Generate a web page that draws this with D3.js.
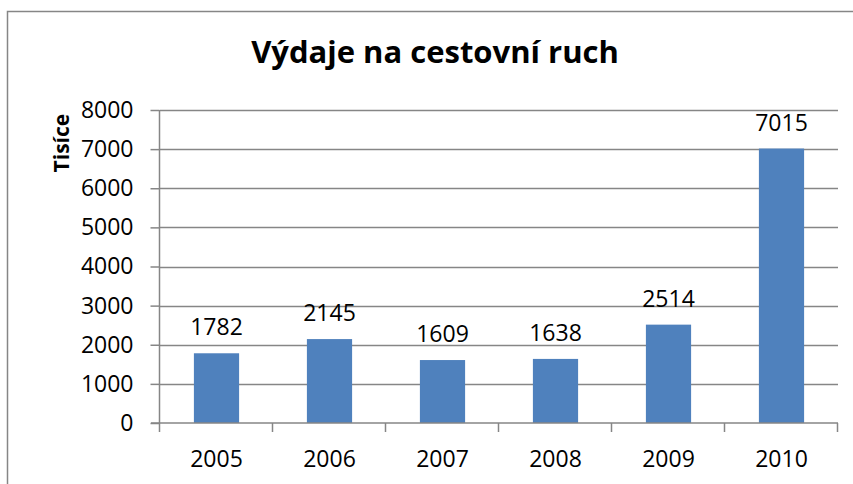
<!DOCTYPE html>
<html>
<head>
<meta charset="utf-8">
<script src="https://cdn.jsdelivr.net/npm/d3@7"></script>
<style>
  body { margin: 0; background: #fff; }
  svg text { font-family: "Open Sans", sans-serif; fill: #000; }
</style>
</head>
<body>
<div id="chart"></div>
<script>
// data
let years = ["2005", "2006", "2007", "2008", "2009", "2010"];
let values = [1782, 2145, 1609, 1638, 2514, 7015];
let yTicks = [0, 1000, 2000, 3000, 4000, 5000, 6000, 7000, 8000];
let title = "Výdaje na cestovní ruch";
let yTitle = "Tisíce";

(function(){

  let width = 853;
  let height = 484;
  let margin = { top: 110, right: 15, bottom: 61, left: 160 };
  let grey = "#868686";

  let svg = d3.select('#chart')
            .append("svg")
            .attr("width", width)
            .attr("height", height);

  // chart frame, runs off the right and bottom edge like in the screenshot
  svg.append("rect")
     .attr("x", 7.5).attr("y", 11.5)
     .attr("width", width + 20).attr("height", height + 20)
     .attr("fill", "none")
     .attr("stroke", grey)
     .attr("stroke-width", 1.5);

  let x = d3.scaleBand()
            .domain(years)
            .range([margin.left, width - margin.right])
            .paddingInner(0.6)
            .paddingOuter(0.3);

  let y = d3.scaleLinear()
            .domain([0, d3.max(yTicks)])
            .range([height - margin.bottom, margin.top]);

  // gridlines
  svg.append("g")
     .selectAll("line")
     .data(yTicks.filter(d => d > 0))
     .enter()
     .append("line")
       .attr("x1", margin.left)
       .attr("x2", width - margin.right)
       .attr("y1", d => Math.round(y(d)) + 0.5)
       .attr("y2", d => Math.round(y(d)) + 0.5)
       .attr("stroke", grey)
       .attr("stroke-width", 1.5);

  // bars
  let data = years.map((yr, i) => ({ year: yr, value: values[i] }));

  svg.append("g")
     .selectAll("rect")
     .data(data)
     .enter()
     .append("rect")
       .attr("x", d => x(d.year))
       .attr("y", d => y(d.value))
       .attr("width", x.bandwidth())
       .attr("height", d => y(0) - y(d.value))
       .attr("fill", "#4F81BD");

  // value labels above the bars
  svg.append("g")
     .selectAll("text")
     .data(data)
     .enter()
     .append("text")
       .attr("x", d => x(d.year) + x.bandwidth() / 2)
       .attr("y", d => y(d.value) - 18)
       .attr("text-anchor", "middle")
       .style("font-size", "23px")
       .text(d => d.value);

  // y axis
  let yAxis = d3.axisLeft(y).tickValues(yTicks).tickFormat(d3.format("d")).tickSize(9).tickPadding(17);
  let gy = svg.append("g")
     .attr("transform", "translate(" + (margin.left - 0.5) + ",0)")
     .call(yAxis);
  gy.selectAll("line, path").attr("stroke", grey).attr("stroke-width", 1.5);
  gy.select(".domain").attr("d", "M0," + y(0) + "V" + y(d3.max(yTicks)));
  gy.selectAll("text").style("font-size", "23px").style("font-family", "Open Sans");

  // x axis: line plus ticks between the categories
  let xg = svg.append("g");
  xg.append("line")
    .attr("x1", margin.left - 9).attr("x2", width - margin.right)
    .attr("y1", y(0)).attr("y2", y(0))
    .attr("stroke", grey).attr("stroke-width", 1.5);

  let bounds = d3.range(years.length + 1).map(i => margin.left + i * x.step());
  xg.selectAll(".tick")
    .data(bounds)
    .enter()
    .append("line")
      .attr("x1", d => Math.round(d) - 0.5)
      .attr("x2", d => Math.round(d) - 0.5)
      .attr("y1", y(0))
      .attr("y2", y(0) + 9)
      .attr("stroke", grey).attr("stroke-width", 1.5);

  xg.selectAll("text")
    .data(years)
    .enter()
    .append("text")
      .attr("x", d => x(d) + x.bandwidth() / 2)
      .attr("y", y(0) + 44)
      .attr("text-anchor", "middle")
      .style("font-size", "23px")
      .text(d => d);

  // titles
  svg.append("text")
     .attr("x", 435)
     .attr("y", 63)
     .attr("text-anchor", "middle")
     .style("font-size", "31px")
     .style("font-weight", "bold")
     .text(title);

  svg.append("text")
     .attr("transform", "translate(61," + (y(7000) - 6) + ") rotate(-90)")
     .attr("text-anchor", "middle")
     .attr("dominant-baseline", "central")
     .style("font-size", "21px")
     .style("font-weight", "bold")
     .text(yTitle);

})();
</script>
</body>
</html>
